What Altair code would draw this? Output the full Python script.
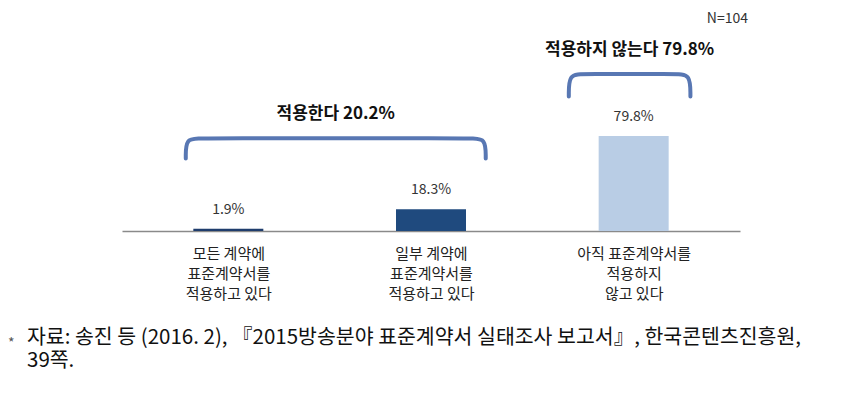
import json
import altair as alt
import pandas as pd

# ---- data ----
cat_lines = [
    ["모든 계약에", "표준계약서를", "적용하고 있다"],
    ["일부 계약에", "표준계약서를", "적용하고 있다"],
    ["아직 표준계약서를", "적용하지", "않고 있다"],
]
values = [1.9, 18.3, 79.8]
value_labels = ["1.9%", "18.3%", "79.8%"]
bar_colors = ["#1f3d6d", "#1f4a7e", "#b9cde5"]

group_titles = ["적용한다 20.2%", "적용하지 않는다 79.8%"]
group_start = [-0.21, 1.68]   # brace left end (category index units)
group_end = [1.27, 2.28]      # brace right end
group_top = [78.0, 132.0]     # brace level (value units)
group_drop = [17.0, 19.0]     # brace end drop (value units)

n_label = "N=104"
footnote_lines = [
    "자료: 송진 등 (2016. 2), 『2015방송분야 표준계약서 실태조사 보고서』, 한국콘텐츠진흥원,",
    "39쪽.",
]

FONT = "Noto Sans CJK KR"

# ---- tables ----
bars = pd.DataFrame({
    "idx": list(range(len(values))),
    "value": values,
    "label": value_labels,
    "color": bar_colors,
})

brace_rows = []
for g, (x0, x1, yt, d) in enumerate(zip(group_start, group_end, group_top, group_drop)):
    a = 0.07
    pts = [(x0, yt - d), (x0, yt), (x0 + a, yt), (x1 - a, yt), (x1, yt), (x1, yt - d)]
    for k, (px, py) in enumerate(pts):
        brace_rows.append({"g": g, "k": k, "x": px, "y": py})
braces = pd.DataFrame(brace_rows)

titles = pd.DataFrame({
    "x": [(a + b) / 2 for a, b in zip(group_start, group_end)],
    "y": group_top,
    "t": group_titles,
})

xscale = alt.Scale(domain=[-0.5, 2.5], nice=False, zero=False)
yscale = alt.Scale(domain=[0, 187.4], nice=False)

label_expr = json.dumps(cat_lines, ensure_ascii=False) + "[datum.value]"

x_axis = alt.Axis(
    values=[0, 1, 2], labelExpr=label_expr, title=None, ticks=False, grid=False,
    domainColor="#8a8a8a", domainWidth=1.5, labelFont=FONT, labelFontSize=15,
    labelColor="#222222", labelPadding=15, labelLineHeight=20,
    labelOverlap=False, labelFlush=False, labelBound=False,
)

base = alt.Chart(bars)

bar_layer = base.mark_bar(size=70).encode(
    x=alt.X("idx:Q", scale=xscale, axis=x_axis),
    y=alt.Y("value:Q", scale=yscale, axis=None),
    color=alt.Color("color:N", scale=None, legend=None),
)

val_text = base.mark_text(font=FONT, fontSize=14, color="#333333", baseline="middle", dy=-19).encode(
    x=alt.X("idx:Q", scale=xscale, title=None),
    y=alt.Y("value:Q", scale=yscale, axis=None),
    text="label:N",
)

brace_layer = alt.Chart(braces).mark_line(
    interpolate="basis", color="#5877b3", strokeWidth=4, strokeCap="round"
).encode(
    x=alt.X("x:Q", scale=xscale, title=None),
    y=alt.Y("y:Q", scale=yscale, axis=None),
    detail="g:N",
    order="k:Q",
)

title_layer = alt.Chart(titles).mark_text(
    font=FONT, fontSize=17, fontWeight="bold", color="#111111", baseline="middle", dy=-24
).encode(
    x=alt.X("x:Q", scale=xscale, title=None),
    y=alt.Y("y:Q", scale=yscale, axis=None),
    text="t:N",
)

n_layer = alt.Chart(pd.DataFrame({"t": [n_label]})).mark_text(
    font=FONT, fontSize=14, color="#333333", align="right", baseline="middle"
).encode(x=alt.value(626), y=alt.value(11), text="t:N")

star_layer = alt.Chart(pd.DataFrame({"t": ["*"]})).mark_text(
    font=FONT, fontSize=14, color="#555555", align="left", baseline="middle"
).encode(x=alt.value(-114), y=alt.value(336), text="t:N")

foot = alt.Chart(pd.DataFrame({"t": ["\n".join(footnote_lines)]})).mark_text(
    font=FONT, fontSize=20.5, color="#111111", align="left", baseline="top",
    lineBreak="\n", lineHeight=23,
).encode(x=alt.value(-95), y=alt.value(320), text="t:N")

chart = alt.layer(
    bar_layer, val_text, brace_layer, title_layer, n_layer, star_layer, foot
).properties(
    width=618, height=223,
    autosize=alt.AutoSizeParams(type="none"),
    padding={"left": 114, "top": 0, "right": 98, "bottom": 177},
).configure(background="white").configure_view(strokeWidth=0, stroke="transparent")

chart.save("out.html", embed_options={"renderer": "svg", "actions": False})
